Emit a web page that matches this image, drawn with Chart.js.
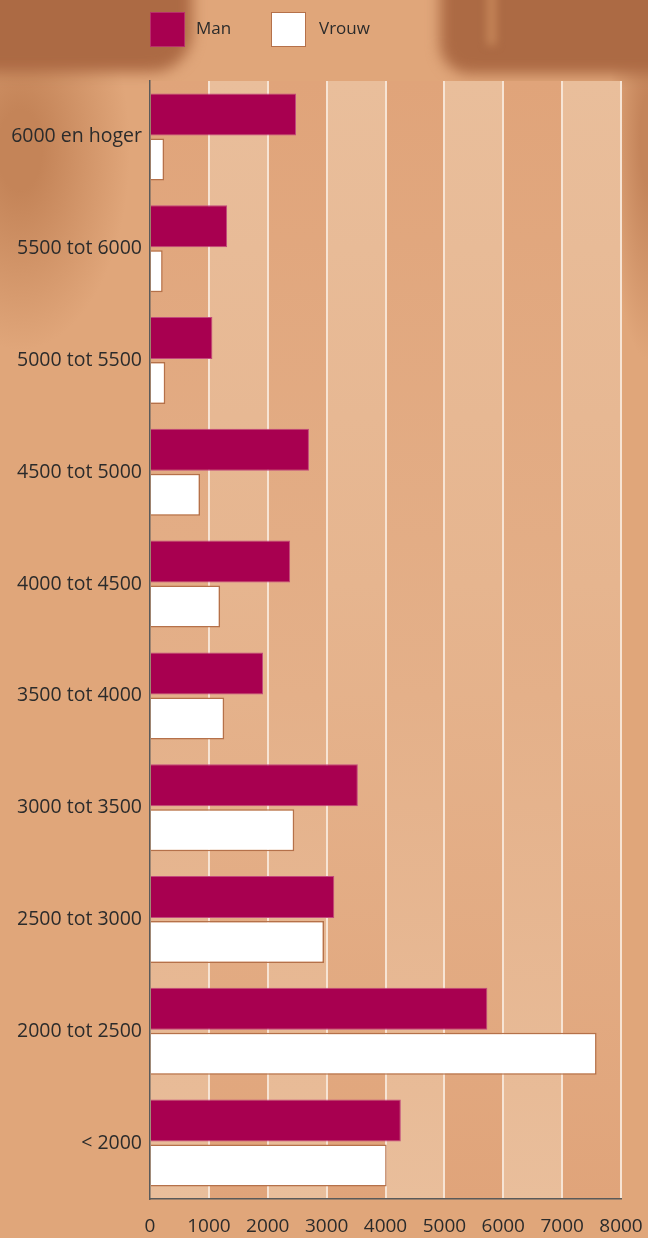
<!DOCTYPE html>
<html>
<head>
<meta charset="utf-8">
<script src="https://cdn.jsdelivr.net/npm/chart.js@4"></script>
<style>
  html, body { margin: 0; padding: 0; }
  body {
    width: 648px; height: 1238px; overflow: hidden; position: relative;
    background-color: #E0A67A;
    background-image:
      radial-gradient(ellipse 110px 200px at 20px 150px, #C48458 20%, rgba(196,132,88,0) 100%),
      radial-gradient(ellipse 40px 220px at 648px 140px, #C4845A 20%, rgba(196,132,90,0) 100%);
  }
  .deco { position: absolute; background: #AC6A44; filter: blur(7px); }
  #wrap { position: absolute; left: 0; top: 0; width: 648px; height: 1238px; }
  .legend { position: absolute; top: 12px; font-family: "Open Sans", sans-serif; font-size: 17px; color: #2b2b2b; }
  .box { position: absolute; width: 35px; height: 35px; box-sizing: border-box; }
  .lbl { position: absolute; top: 5px; white-space: nowrap; line-height: 22px; }
</style>
</head>
<body>
<div class="deco" style="left:-20px;top:-20px;width:212px;height:92px;border-radius:0 0 40px 0;"></div>
<div class="deco" style="left:440px;top:-20px;width:240px;height:94px;border-radius:0 0 0 30px;"></div>
<div class="deco" style="left:487px;top:-10px;width:9px;height:55px;background:#C68659;filter:blur(4px);"></div>
<div id="wrap"><canvas id="c" width="648" height="1238"></canvas></div>
<div class="legend" style="left:150px">
  <div class="box" style="left:0;top:0;background:#A80050;border:1px solid #B8306A;"></div>
  <div class="lbl" style="left:46px">Man</div>
</div>
<div class="legend" style="left:271px">
  <div class="box" style="left:0;top:0;background:#fff;border:1.5px solid #B5714A;"></div>
  <div class="lbl" style="left:48px">Vrouw</div>
</div>
<script>
const categories = ['6000 en hoger','5500 tot 6000','5000 tot 5500','4500 tot 5000','4000 tot 4500','3500 tot 4000','3000 tot 3500','2500 tot 3000','2000 tot 2500','< 2000'];
const manValues = [2480, 1310, 1060, 2700, 2380, 1920, 3530, 3130, 5730, 4260];
const vrouwValues = [240, 215, 260, 850, 1190, 1260, 2450, 2955, 7585, 4020];
const xTicks = [0, 1000, 2000, 3000, 4000, 5000, 6000, 7000, 8000];

const bandPlugin = {
  id: 'bands',
  beforeDraw(chart) {
    const {ctx, chartArea: a, scales: {x}} = chart;
    for (let i = 0; i < xTicks.length - 1; i++) {
      const x0 = x.getPixelForValue(xTicks[i]);
      const x1 = x.getPixelForValue(xTicks[i + 1]);
      const g = ctx.createLinearGradient(0, a.top, 0, a.bottom);
      const light = '#E9BE9B', dark = '#E0A47A';
      if (i % 2 === 1) { g.addColorStop(0, light); g.addColorStop(0.45, '#E6B58F'); g.addColorStop(1, dark); }
      else { g.addColorStop(0, dark); g.addColorStop(0.55, '#E4B089'); g.addColorStop(1, light); }
      ctx.save();
      ctx.fillStyle = g;
      ctx.fillRect(x0, a.top, x1 - x0, a.bottom - a.top);
      ctx.restore();
    }
  }
};

new Chart(document.getElementById('c'), {
  type: 'bar',
  data: {
    labels: categories,
    datasets: [
      { label: 'Man', data: manValues, backgroundColor: '#A80050', borderColor: '#C24A7C', borderWidth: 1,
        categoryPercentage: 0.805, barPercentage: 0.933 },
      { label: 'Vrouw', data: vrouwValues, backgroundColor: '#FFFFFF', borderColor: '#B5714A', borderWidth: 1.5,
        categoryPercentage: 0.805, barPercentage: 0.933 }
    ]
  },
  options: {
    indexAxis: 'y',
    responsive: false,
    animation: false,
    layout: { padding: { top: 81, right: 27, left: 0, bottom: 0 } },
    plugins: { legend: { display: false }, tooltip: { enabled: false } },
    scales: {
      x: {
        min: 0, max: 8000,
        afterBuildTicks(s) { s.ticks = xTicks.map(v => ({ value: v })); },
        afterFit(s) { s.height = 39; s.paddingRight = 0; s.paddingLeft = 0; },
        grid: { color: (c) => c.index === 0 ? 'rgba(0,0,0,0)' : '#F7E4D4', lineWidth: 2, drawTicks: false },
        border: { display: true, color: '#5a5a5a', width: 1.5 },
        ticks: { padding: 16, color: '#2b2b2b', font: { family: 'Open Sans', size: 19 }, maxRotation: 0, autoSkip: false,
          callback: (v) => String(v) }
      },
      y: {
        afterFit(s) { s.width = 150; },
        grid: { display: false, drawTicks: false },
        border: { display: true, color: '#5a5a5a', width: 1.5 },
        ticks: { padding: 8, color: '#2b2b2b', font: { family: 'Open Sans', size: 19.5 } }
      }
    }
  },
  plugins: [bandPlugin]
});
</script>
</body>
</html>
